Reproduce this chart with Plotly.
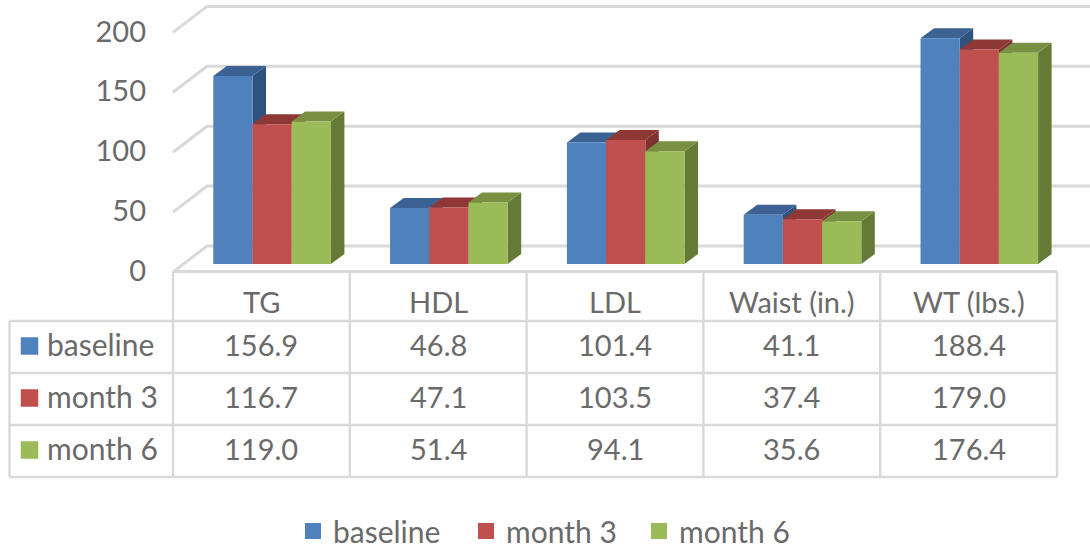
import plotly.graph_objects as go

categories = ["TG", "HDL", "LDL", "Waist (in.)", "WT (lbs.)"]
series_names = ["baseline", "month 3", "month 6"]
baseline = [156.9, 46.8, 101.4, 41.1, 188.4]
month_3 = [116.7, 47.1, 103.5, 37.4, 179.0]
month_6 = [119.0, 51.4, 94.1, 35.6, 176.4]
y_ticks = [0, 50, 100, 150, 200]

front_colors = ["#4f81bd", "#c0504d", "#9bbb59"]
top_colors = ["#3b6292", "#8e3836", "#779041"]
side_colors = ["#30527e", "#7f3230", "#657a37"]
GRID = "#d9d9d9"
TEXT = "#6a6a6a"
FONT = "Lato"
FONT_SIZE = 29

W, H = 1090, 548
# pixel scales of the chart, everything below goes through these
CAT_PX = 176.8      # one category column
ZERO_X = 261.4      # centre of first column
ZERO_Y = 264.0      # bar foot, front
UNIT_PX = 1.198     # one y unit


def px2x(p):
    return (p - ZERO_X) / CAT_PX


def px2y(p):
    return (ZERO_Y - p) / UNIT_PX


bar_w = 39.2 / CAT_PX
bar_start = (213.3 - ZERO_X) / CAT_PX
depth_x = 13.5 / CAT_PX
depth_y = 10 / UNIT_PX
# walls of the 3d box
wall_x = 34 / CAT_PX
wall_y = 26 / UNIT_PX
front_left = px2x(173)
back_zero = 18 / UNIT_PX
table_rows_y = [346, 398, 450]
TEXT_LIFT = 2  # text sits a little low in its box

fig = go.Figure()

# back wall gridlines + the slanted side lines
grid_x, grid_y = [], []
for t in y_ticks:
    yb = t + back_zero
    grid_x += [front_left, front_left + wall_x, px2x(W + 5), None]
    grid_y += [yb - wall_y, yb, yb, None]
fig.add_trace(go.Scatter(x=grid_x, y=grid_y, mode="lines", line=dict(color=GRID, width=3),
                         showlegend=False, hoverinfo="skip"))

# bars, left to right so that every bar covers the side of the one before
all_series = [baseline, month_3, month_6]
for s, values in enumerate(all_series):
    sx, sy, tx, ty, fx, fy = [], [], [], [], [], []
    for i, v in enumerate(values):
        x0 = i + bar_start + s * bar_w
        x1 = x0 + bar_w
        sx += [x1, x1 + depth_x, x1 + depth_x, x1, x1, None]
        sy += [0, depth_y, v + depth_y, v, 0, None]
        tx += [x0, x0 + depth_x, x1 + depth_x, x1, x0, None]
        ty += [v, v + depth_y, v + depth_y, v, v, None]
        fx += [x0, x1, x1, x0, x0, None]
        fy += [0, 0, v, v, 0, None]
    for xs, ys, col in [(sx, sy, side_colors[s]), (tx, ty, top_colors[s]), (fx, fy, front_colors[s])]:
        fig.add_trace(go.Scatter(x=xs, y=ys, mode="lines", fill="toself", fillcolor=col,
                                 line=dict(width=0), showlegend=False, hoverinfo="skip"))

# table swatches, these also carry the legend
for s, name in enumerate(series_names):
    fig.add_trace(go.Scatter(x=[px2x(29.5)], y=[px2y(table_rows_y[s])], mode="markers", name=name,
                             marker=dict(symbol="square", size=17.5, color=front_colors[s]),
                             hoverinfo="skip"))

# table lines
shapes = []
col_edges = [173 + CAT_PX * i for i in range(6)]
for e in col_edges:
    shapes.append(dict(type="line", xref="paper", yref="paper", x0=e / W, x1=e / W,
                       y0=1 - 271.5 / H, y1=1 - 477 / H, line=dict(color=GRID, width=2.4)))
shapes.append(dict(type="line", xref="paper", yref="paper", x0=9.5 / W, x1=9.5 / W,
                   y0=1 - 321 / H, y1=1 - 477 / H, line=dict(color=GRID, width=2.4)))
shapes.append(dict(type="line", xref="paper", yref="paper", x0=173 / W, x1=col_edges[-1] / W,
                   y0=1 - 271.5 / H, y1=1 - 271.5 / H, line=dict(color=GRID, width=3)))
for r in [321, 373, 425, 477]:
    shapes.append(dict(type="line", xref="paper", yref="paper", x0=9.5 / W, x1=col_edges[-1] / W,
                       y0=1 - r / H, y1=1 - r / H, line=dict(color=GRID, width=2.4)))

# table text
annotations = []
for i, c in enumerate(categories):
    annotations.append(dict(x=i, y=px2y(303 - TEXT_LIFT), text=c, showarrow=False, xref="x", yref="y"))
    for s, values in enumerate(all_series):
        annotations.append(dict(x=i, y=px2y(table_rows_y[s] - TEXT_LIFT), text=f"{values[i]:.1f}",
                                showarrow=False, xref="x", yref="y"))
for s, name in enumerate(series_names):
    annotations.append(dict(x=px2x(45), y=px2y(table_rows_y[s] - TEXT_LIFT), text=name, showarrow=False,
                            xanchor="left", xref="x", yref="y", font=dict(size=30)))

fig.update_layout(
    width=W, height=H,
    margin=dict(l=0, r=0, t=0, b=0, autoexpand=False),
    paper_bgcolor="white", plot_bgcolor="white",
    font=dict(family=FONT, size=FONT_SIZE, color=TEXT),
    shapes=shapes, annotations=annotations,
    legend=dict(orientation="h", x=293 / W, xanchor="left", y=1 - 531 / H, yanchor="middle",
                entrywidth=128, entrywidthmode="pixels", bgcolor="rgba(0,0,0,0)",
                font=dict(family=FONT, size=30, color=TEXT)),
    xaxis=dict(range=[px2x(0), px2x(W)], visible=False),
    yaxis=dict(range=[px2y(H), px2y(0)], anchor="free", position=146 / W, showgrid=False,
               zeroline=False, showline=False, ticks="", tickvals=[t - 7 / UNIT_PX for t in y_ticks],
               ticktext=[str(t) for t in y_ticks], tickfont=dict(family=FONT, size=FONT_SIZE, color=TEXT)),
)

fig.write_html("out.html", config={"displayModeBar": False},
               post_script="document.body.style.margin='0';")
